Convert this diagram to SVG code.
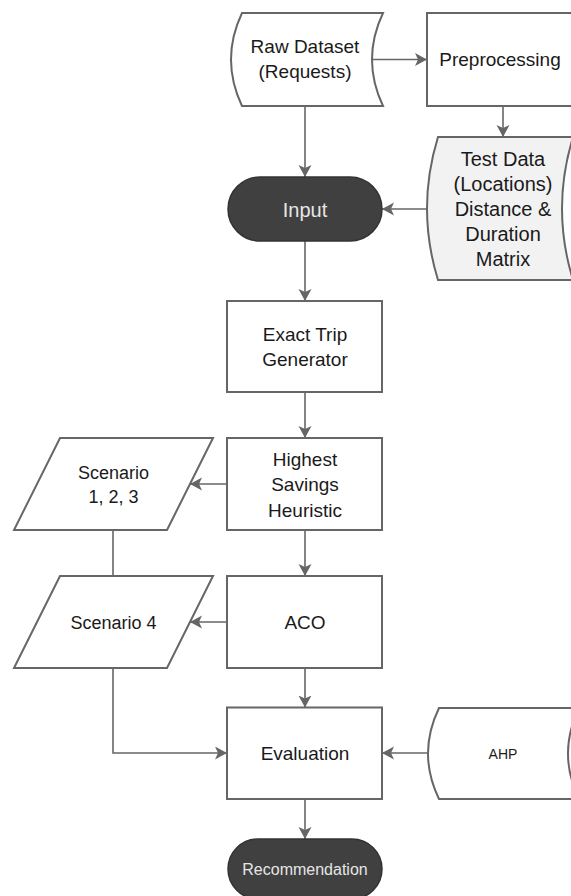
<svg xmlns="http://www.w3.org/2000/svg" width="571" height="896" viewBox="0 0 571 896">
<defs>
<marker id="arr" markerUnits="userSpaceOnUse" markerWidth="14" markerHeight="14" refX="12" refY="6.5" orient="auto">
<path d="M0,0 L12,6.5 L0,13 L3,6.5 Z" fill="#666666"/>
</marker>
<style>
.box{fill:#ffffff;stroke:#666666;stroke-width:2}
.grey{fill:#f2f2f2;stroke:#666666;stroke-width:2}
.term{fill:#404040;stroke:#333333;stroke-width:1.5}
.t{font-family:"Liberation Sans",Arial,sans-serif;font-size:19px;fill:#1a1a1a;text-anchor:middle}
.t20{font-size:20px}
.s18{font-size:18px}
.w{fill:#e6e6e6}
.conn line,.conn path{stroke:#666666;stroke-width:1.6;fill:none}
</style>
</defs>
<rect width="571" height="896" fill="#ffffff"/>
<g class="conn">
<line x1="372" y1="59.5" x2="427" y2="59.5" marker-end="url(#arr)"/>
<line x1="503" y1="106" x2="503" y2="137" marker-end="url(#arr)"/>
<line x1="305" y1="106" x2="305" y2="177" marker-end="url(#arr)"/>
<line x1="427" y1="209" x2="382" y2="209" marker-end="url(#arr)"/>
<line x1="305" y1="241" x2="305" y2="301" marker-end="url(#arr)"/>
<line x1="305" y1="392" x2="305" y2="438" marker-end="url(#arr)"/>
<line x1="227" y1="484" x2="190" y2="484" marker-end="url(#arr)"/>
<line x1="305" y1="530" x2="305" y2="576" marker-end="url(#arr)"/>
<line x1="113" y1="530" x2="113" y2="576"/>
<line x1="227" y1="622" x2="190" y2="622" marker-end="url(#arr)"/>
<line x1="305" y1="668" x2="305" y2="707.5" marker-end="url(#arr)"/>
<path d="M113,668 V753 H227" marker-end="url(#arr)"/>
<line x1="428" y1="753" x2="382" y2="753" marker-end="url(#arr)"/>
<line x1="305" y1="799" x2="305" y2="839" marker-end="url(#arr)"/>
</g>
<g id="raw">
<path class="box" d="M242,13 L383,13 Q361,59.5 383,106 L242,106 Q220,59.5 242,13 Z"/>
<text class="t" x="305" y="53">Raw Dataset</text>
<text class="t" x="305" y="78">(Requests)</text>
</g>
<g id="preprocessing">
<rect class="box" x="427" y="13" width="147" height="93"/>
<text class="t" x="500" y="66">Preprocessing</text>
</g>
<g id="testdata">
<path class="grey" d="M438,137 L573,137 Q551,208.5 573,280 L438,280 Q416,208.5 438,137 Z"/>
<text class="t t20" x="503" y="165.5">Test Data</text>
<text class="t t20" x="503" y="190.5">(Locations)</text>
<text class="t t20" x="503" y="215.5">Distance &amp;</text>
<text class="t t20" x="503" y="240.5">Duration</text>
<text class="t t20" x="503" y="265.5">Matrix</text>
</g>
<g id="input">
<rect class="term" x="228" y="177" width="154" height="64" rx="32"/>
<text class="t t20 w" x="305" y="216.5">Input</text>
</g>
<g id="exact">
<rect class="box" x="227" y="301" width="155" height="91"/>
<text class="t" x="305" y="341">Exact Trip</text>
<text class="t" x="305" y="366">Generator</text>
</g>
<g id="highest">
<rect class="box" x="227" y="438" width="155" height="92"/>
<text class="t" x="305" y="465.5">Highest</text>
<text class="t" x="305" y="491">Savings</text>
<text class="t" x="305" y="516.5">Heuristic</text>
</g>
<g id="scenario123">
<polygon class="box" points="60,438 213,438 167,530 14,530"/>
<text class="t s18" x="113.5" y="478.5">Scenario</text>
<text class="t s18" x="113.5" y="502.5">1, 2, 3</text>
</g>
<g id="aco">
<rect class="box" x="227" y="576" width="155" height="92"/>
<text class="t" x="305" y="628.5">ACO</text>
</g>
<g id="scenario4">
<polygon class="box" points="60,576 213,576 167,668 14,668"/>
<text class="t s18" x="113.5" y="628.5">Scenario 4</text>
</g>
<g id="evaluation">
<rect class="box" x="227" y="707.5" width="155" height="91.5"/>
<text class="t" x="305" y="760">Evaluation</text>
</g>
<g id="ahp">
<path class="box" d="M439,708 L579,708 Q557,753.5 579,799 L439,799 Q417,753.5 439,708 Z"/>
<text class="t" style="font-size:14px" x="503" y="758.5">AHP</text>
</g>
<g id="recommendation">
<rect class="term" x="228" y="839" width="154" height="60" rx="30"/>
<text class="t w" style="font-size:16px" x="305" y="875">Recommendation</text>
</g>
</svg>
